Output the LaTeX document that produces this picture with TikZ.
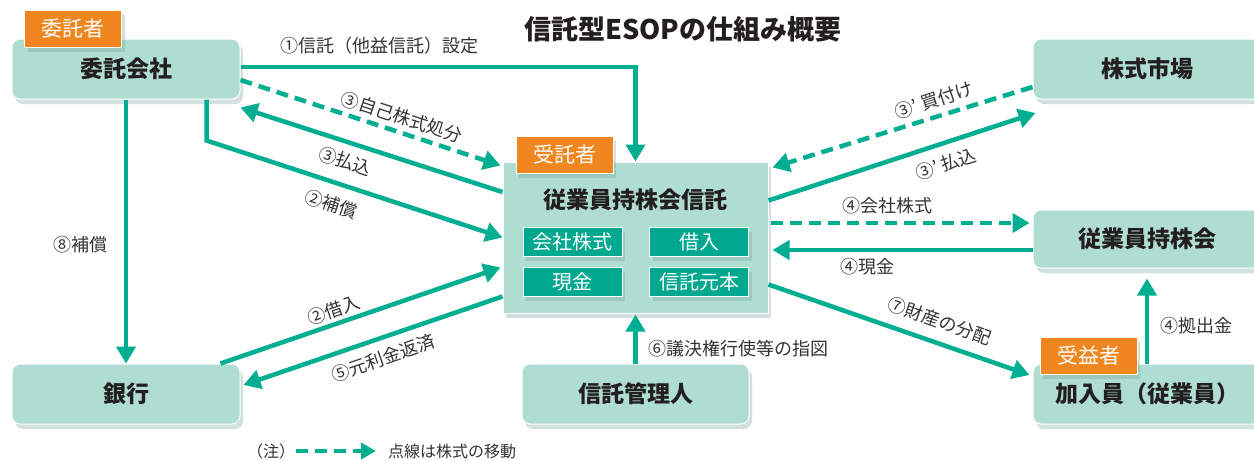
\documentclass[tikz,border=0pt]{standalone}
\usepackage{fontspec}
\setmainfont{Noto Sans CJK JP}
\usetikzlibrary{arrows.meta,calc,shadows}
\definecolor{boxc}{HTML}{AFDDD2}
\definecolor{tealc}{HTML}{00AE92}
\definecolor{dteal}{HTML}{00A88F}
\definecolor{orng}{HTML}{F0861F}
\definecolor{txt}{HTML}{231F20}
\definecolor{lblc}{HTML}{333333}
\definecolor{shd}{HTML}{6E9C92}
\begin{document}
\begin{tikzpicture}[x=1pt,y=-1pt,
  shd/.style={drop shadow={opacity=0.3,shadow xshift=3pt,shadow yshift=-5pt,fill=shd}},
  box/.style={draw=white,line width=1pt,fill=boxc,rounded corners=8pt,minimum width=228pt,minimum height=60pt,inner sep=0pt,font=\bfseries\fontsize{23}{26}\selectfont,text=txt,shd},
  tag/.style={draw=white,line width=1pt,fill=orng,text=white,font=\fontsize{21}{24}\selectfont,minimum width=97pt,minimum height=37pt,inner sep=0pt,shd},
  inbox/.style={draw=white,line width=1pt,fill=dteal,text=white,minimum width=99pt,minimum height=29pt,inner sep=0pt,font=\fontsize{20}{22}\selectfont,shd},
  arr/.style={draw=tealc,line width=4.5pt,-{Triangle[length=17pt,width=19pt]}},
  dsh/.style={arr,dash pattern=on 12pt off 7pt},
  lbl/.style={font=\fontsize{18}{20}\selectfont,text=lblc,inner sep=0pt}
]
\useasboundingbox (0,0) rectangle (1254,459);
\fill[white] (0,0) rectangle (1254,459);

% title
\node[font=\bfseries\fontsize{27}{30}\selectfont,text=txt] (title) at (683,29) {信託型ESOPの仕組み概要};

% boxes
\node[box] (itaku) at (126,69) {委託会社};
\node[tag] (tagA) at (73,28.5) {委託者};
\node[box] (market) at (1147,69) {株式市場};
\node[box,minimum height=58pt] (kai) at (1147,239) {従業員持株会};
\node[box] (member) at (1147,394) {加入員（従業員）};
\node[tag] (tagC) at (1088.5,355.5) {受益者};
\node[box] (bank) at (126,394) {銀行};
\node[box,minimum width=227pt] (admin) at (635.5,394) {信託管理人};

\node[draw=white,line width=1pt,fill=boxc,minimum width=265pt,minimum height=151pt,inner sep=0pt,shd] (trust) at (635.5,237.5) {};
\node[tag] (tagB) at (564.5,154.5) {受託者};
\node[font=\bfseries\fontsize{23}{26}\selectfont,text=txt] (trusttext) at (635.5,200) {従業員持株会信託};
\node[inbox] (kabu) at (572.5,241.5) {会社株式};
\node[inbox] (kari) at (699,241.5) {借入};
\node[inbox] (gen) at (572.5,281.5) {現金};
\node[inbox] (gan) at (699,281.5) {信託元本};

% connectors
\draw[arr] ($(itaku.east)+(0,-2)$) -| (trust.north);
\node[lbl] (l1) at (379,46) {①信託（他益信託）設定};

\draw[dsh] ($(itaku.east)+(0,11)$) -- ($(trust.north west)+(-2,4)$);
\node[lbl,rotate=-18] (l3a) at (402,117) {③自己株式処分};

\draw[arr] ($(trust.west)+(0,-45.5)$) -- ($(itaku.south east)+(0,8)$);
\node[lbl,rotate=-18] (l3b) at (345,161) {③払込};

\draw[arr] ($(itaku.south east)+(-34,0)$) -- ($(itaku.south east)+(-34,41)$) -- (trust.west);
\node[lbl,rotate=-18] (l2a) at (331,204) {②補償};

\draw[arr] (itaku.south) -- (bank.north);
\node[lbl] (l8) at (80,245) {⑧補償};

\draw[arr] ($(bank.north east)+(-20,0)$) -- ($(trust.west)+(-2,30)$);
\node[lbl,rotate=19] (l2b) at (334,310) {②借入};

\draw[arr] ($(trust.west)+(0,59)$) -- ($(bank.east)+(3,-9)$);
\node[lbl,rotate=19] (l5) at (383,358) {⑤元利金返済};

\draw[arr] (admin.north) -- ($(trust.south)+(0,1)$);
\node[lbl,anchor=west] (l6) at (648,349) {⑥議決権行使等の指図};

\draw[dsh] ($(market.west)+(0,18)$) -- ($(trust.north east)+(4,6)$);
\node[lbl,rotate=18] (l3c) at (934,100) {③’ 買付け};

\draw[arr] ($(trust.east)+(0,-37)$) -- ($(market.west)+(3,44)$);
\node[lbl,rotate=18] (l3d) at (946,164) {③’ 払込};

\draw[dsh] ($(trust.east)+(2,-14.5)$) -- ($(kai.west)+(-3,-16)$);
\node[lbl] (l4a) at (887,206) {④会社株式};

\draw[arr] ($(kai.west)+(0,11)$) -- ($(trust.east)+(4,12.5)$);
\node[lbl] (l4b) at (867,267) {④現金};

\draw[arr] ($(trust.east)+(0,47)$) -- ($(member.west)+(-3,-19)$);
\node[lbl,rotate=-19] (l7) at (940,321) {⑦財産の分配};

\draw[arr] (member.north) -- ($(kai.south)+(0,10)$);
\node[lbl] (l4c) at (1196,326) {④拠出金};

% legend
\node[font=\fontsize{16}{18}\selectfont,text=lblc] (note) at (271,451) {（注）};
\coordinate (la) at (296,451);
\coordinate (lb) at (376,451);
\draw[dsh,line width=4pt,-{Triangle[length=15pt,width=16pt]}] (la) -- (lb);
\node[font=\fontsize{16}{18}\selectfont,text=lblc] (legend) at (452,451) {点線は株式の移動};
\end{tikzpicture}
\end{document}
